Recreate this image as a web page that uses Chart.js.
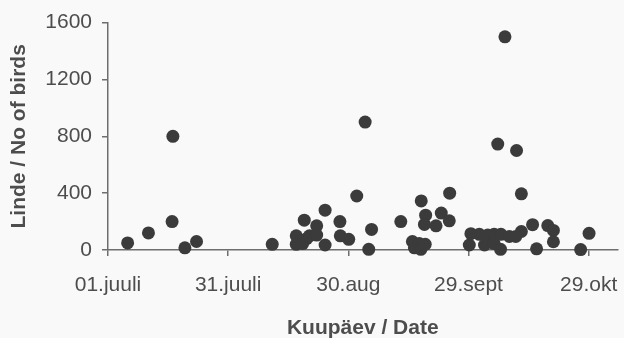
<!DOCTYPE html>
<html>
<head>
<meta charset="utf-8">
<script src="https://cdn.jsdelivr.net/npm/chart.js@4/dist/chart.umd.min.js"></script>
<style>
  html, body { margin: 0; padding: 0; background: #f9f9f9; }
  #wrap { width: 624px; height: 338px; }
</style>
</head>
<body>
<div id="wrap"><canvas id="chart" width="624" height="338"></canvas></div>
<script>
// days counted from 01.juuli
const tickDays = [0, 30, 60, 90, 120]
const tickLabels = ["01.juuli", "31.juuli", "30.aug", "29.sept", "29.okt"]
const countTicks = [0, 400, 800, 1200, 1600]

const dayOfSeason = [
  4.9, 10.1, 16.0, 16.2, 19.2, 22.1,
  41.0, 47.0, 47.0, 48.6, 49.0, 49.6, 50.3, 52.1, 52.1, 54.2, 54.2, 57.9, 58.0, 60.1,
  62.1, 64.2, 65.8, 65.1,
  73.1, 76.0, 76.5, 77.7, 78.1, 79.2, 78.2, 79.3, 79.0, 81.9, 83.2, 85.2, 85.3,
  90.2, 90.6, 92.7, 94.8, 96.4, 98.1, 100.2, 101.8, 103.2, 94.0, 96.4, 98.0,
  97.3, 99.1, 102.0, 103.2, 106.0, 107.0, 109.8, 111.2, 111.2, 118.0, 120.1
]
const birdCounts = [
  50, 120, 200, 800, 15, 60,
  40, 100, 40, 45, 210, 80, 100, 170, 105, 280, 35, 200, 100, 75,
  380, 900, 145, 5,
  200, 60, 15, 45, 5, 40, 345, 245, 180, 170, 260, 205, 400,
  35, 115, 110, 105, 110, 110, 95, 95, 130, 35, 45, 5,
  745, 1500, 700, 395, 178, 8, 172, 138, 58, 3, 117
]

const points = dayOfSeason.map((d, i) => ({ x: d, y: birdCounts[i] }))

const axisColor = "#6e6e6e"
const textColor = "#4d4d4d"
const tickFont = { family: "'Liberation Sans', Arial, sans-serif", size: 21 }
const titleFont = { family: "'Liberation Sans', Arial, sans-serif", size: 21, weight: "bold" }

new Chart(document.getElementById("chart"), {
  type: "scatter",
  data: {
    datasets: [{
      data: points,
      pointRadius: 6.5,
      pointHoverRadius: 6.5,
      backgroundColor: "#3b3b3b",
      borderColor: "#3b3b3b",
      borderWidth: 0,
      clip: false
    }]
  },
  options: {
    responsive: false,
    animation: false,
    layout: { padding: { top: 21, right: 6, left: 0, bottom: 0 } },
    plugins: {
      legend: { display: false },
      tooltip: { enabled: false }
    },
    scales: {
      x: {
        type: "linear",
        min: 0,
        max: 127.2,
        afterFit: (scale) => {
          scale.height = 88
          scale.paddingLeft = 0
          scale.paddingRight = 0
        },
        afterBuildTicks: (scale) => { scale.ticks = tickDays.map(v => ({ value: v })) },
        ticks: {
          color: textColor,
          font: tickFont,
          padding: 17,
          maxRotation: 0,
          callback: (v) => tickLabels[tickDays.indexOf(v)]
        },
        grid: { display: true, drawOnChartArea: false, drawTicks: true, tickLength: 6, color: axisColor, lineWidth: 1.5 },
        border: { display: true, color: axisColor, width: 1.5 },
        title: {
          display: true,
          text: "Kuupäev / Date",
          color: textColor,
          font: { ...titleFont, lineHeight: 1 },
          padding: { top: 0, bottom: -1 }
        }
      },
      y: {
        min: 0,
        max: 1600,
        afterFit: (scale) => { scale.width = 108 },
        afterBuildTicks: (scale) => { scale.ticks = countTicks.map(v => ({ value: v })) },
        ticks: { color: textColor, font: tickFont, padding: 10, callback: (v) => String(v) },
        grid: { display: true, drawOnChartArea: false, drawTicks: true, tickLength: 6, color: axisColor, lineWidth: 1.5 },
        border: { display: true, color: axisColor, width: 1.5 },
        title: {
          display: true,
          text: "Linde / No of birds",
          color: textColor,
          font: titleFont,
          padding: { top: 7, bottom: 4 }
        }
      }
    }
  }
})
</script>
</body>
</html>
